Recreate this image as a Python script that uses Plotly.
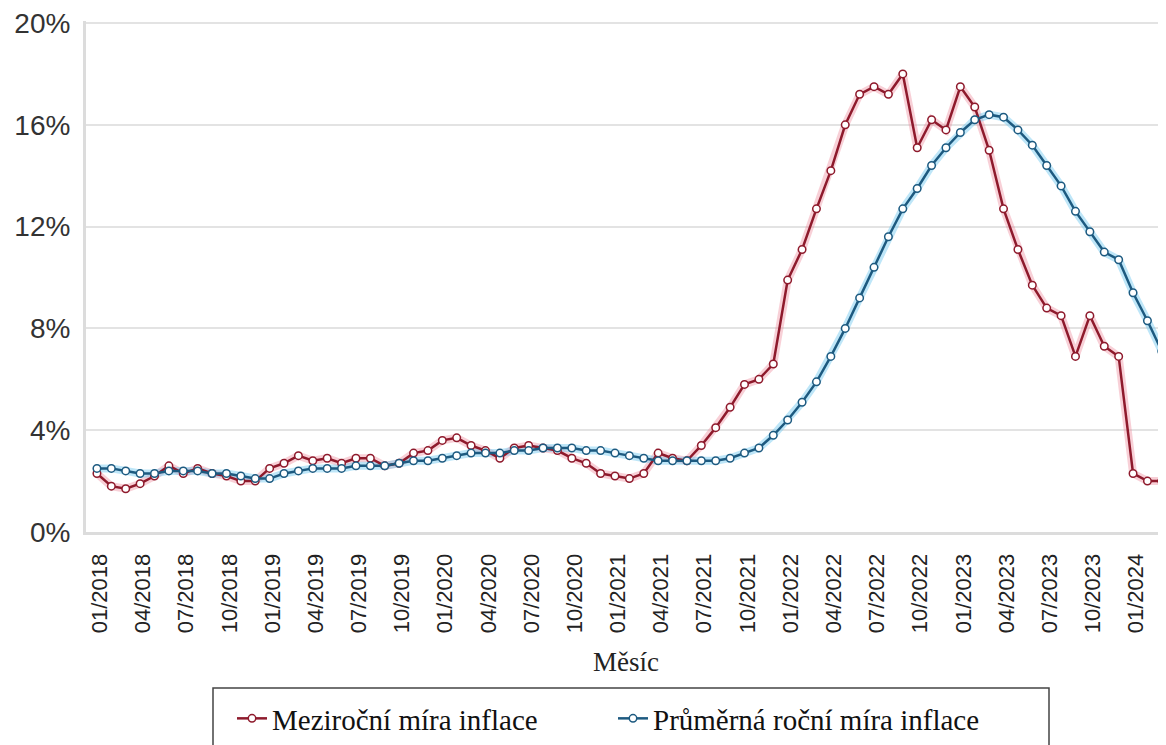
import plotly.graph_objects as go

months = [f"{m:02d}/{y}" for y in range(2018, 2025) for m in range(1, 13)][:75]

mezirocni = [
    2.3, 1.8, 1.7, 1.9, 2.2, 2.6, 2.3, 2.5, 2.3, 2.2, 2.0, 2.0,
    2.5, 2.7, 3.0, 2.8, 2.9, 2.7, 2.9, 2.9, 2.6, 2.7, 3.1, 3.2,
    3.6, 3.7, 3.4, 3.2, 2.9, 3.3, 3.4, 3.3, 3.2, 2.9, 2.7, 2.3,
    2.2, 2.1, 2.3, 3.1, 2.9, 2.8, 3.4, 4.1, 4.9, 5.8, 6.0, 6.6,
    9.9, 11.1, 12.7, 14.2, 16.0, 17.2, 17.5, 17.2, 18.0, 15.1, 16.2, 15.8,
    17.5, 16.7, 15.0, 12.7, 11.1, 9.7, 8.8, 8.5, 6.9, 8.5, 7.3, 6.9,
    2.3, 2.0, 2.0,
]

prumerna = [
    2.5, 2.5, 2.4, 2.3, 2.3, 2.4, 2.4, 2.4, 2.3, 2.3, 2.2, 2.1,
    2.1, 2.3, 2.4, 2.5, 2.5, 2.5, 2.6, 2.6, 2.6, 2.7, 2.8, 2.8,
    2.9, 3.0, 3.1, 3.1, 3.1, 3.2, 3.2, 3.3, 3.3, 3.3, 3.2, 3.2,
    3.1, 3.0, 2.9, 2.8, 2.8, 2.8, 2.8, 2.8, 2.9, 3.1, 3.3, 3.8,
    4.4, 5.1, 5.9, 6.9, 8.0, 9.2, 10.4, 11.6, 12.7, 13.5, 14.4, 15.1,
    15.7, 16.2, 16.4, 16.3, 15.8, 15.2, 14.4, 13.6, 12.6, 11.8, 11.0, 10.7,
    9.4, 8.3, 7.1,
]

tick_labels = months[::3]
y_ticks = [0, 4, 8, 12, 16, 20]

RED = "#8e1a2c"
BLUE = "#1d5a80"

x_idx = list(range(len(months)))

fig = go.Figure()

# soft glow under the lines
fig.add_trace(go.Scatter(x=x_idx, y=mezirocni, mode="lines",
                         line=dict(color="rgba(235,120,140,0.35)", width=8),
                         showlegend=False, hoverinfo="skip"))
fig.add_trace(go.Scatter(x=x_idx, y=prumerna, mode="lines",
                         line=dict(color="rgba(110,200,240,0.45)", width=8),
                         showlegend=False, hoverinfo="skip"))

fig.add_trace(go.Scatter(
    x=x_idx, y=mezirocni, mode="lines+markers", name="Meziroční míra inflace",
    line=dict(color=RED, width=2.5),
    marker=dict(symbol="circle", size=7.5, color="white", line=dict(color=RED, width=1.5)),
))
fig.add_trace(go.Scatter(
    x=x_idx, y=prumerna, mode="lines+markers", name="Průměrná roční míra inflace",
    line=dict(color=BLUE, width=2.5),
    marker=dict(symbol="circle", size=7.5, color="white", line=dict(color=BLUE, width=1.5)),
))

PW, PH, L = 1080, 511, 86
BOTTOM = 532

fig.update_layout(
    width=1158, height=737,
    margin=dict(l=78, r=0, t=13, b=213),
    paper_bgcolor="white", plot_bgcolor="white",
    showlegend=True,
    legend=dict(
        orientation="h", x=(232 - L) / PW, y=-(693 - BOTTOM) / PH, xanchor="left", yanchor="top",
        font=dict(family="Liberation Serif", size=29, color="#111"),
        entrywidth=336, entrywidthmode="pixels",
        bgcolor="rgba(0,0,0,0)", borderwidth=0,
    ),
    shapes=[dict(type="rect", xref="paper", yref="paper",
                 x0=(213 - L) / PW, x1=(1049 - L) / PW,
                 y0=-(688 - BOTTOM) / PH, y1=-(790 - BOTTOM) / PH,
                 line=dict(color="#444", width=1.5), fillcolor="rgba(0,0,0,0)")],
)

fig.update_xaxes(
    range=[-0.76, 74.29],
    tickvals=x_idx[::3], ticktext=tick_labels, tickangle=-90,
    tickfont=dict(family="Liberation Sans", size=22, color="#222"),
    ticklabelstandoff=10, ticklabelshift=3, ticklabeloverflow="allow",
    showgrid=False, showline=True, linecolor="#dcdcdc", linewidth=3,
    ticks="", zeroline=False, automargin=False,
    title=dict(text="Měsíc", font=dict(family="Liberation Serif", size=27, color="#222"),
               standoff=20),
)

fig.update_yaxes(
    range=[0, 20.08], tickvals=y_ticks, ticktext=[f"{v}%" for v in y_ticks],
    tickfont=dict(family="Liberation Sans", size=28, color="#333"),
    ticklabelstandoff=7, ticklabeloverflow="allow",
    showgrid=True, gridcolor="#e3e3e3", gridwidth=1.5,
    showline=True, linecolor="#dcdcdc", linewidth=3,
    zeroline=False, ticks="", automargin=False,
)

fig.write_html("out.html")
